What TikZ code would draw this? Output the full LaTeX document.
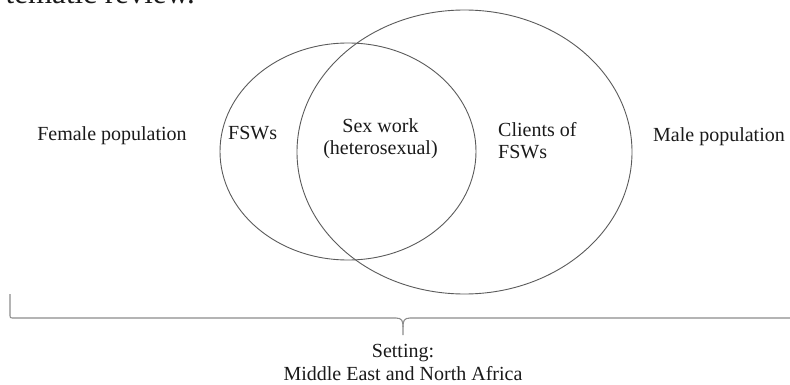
\documentclass[tikz,border=0pt]{standalone}
\usepackage{fontspec}
\setmainfont{Liberation Serif}
\usetikzlibrary{positioning,shapes.geometric}
\definecolor{ink}{HTML}{1A1A1A}
\definecolor{rimgray}{HTML}{5A5A5A}
\definecolor{bracegray}{HTML}{8C8C8C}
\tikzset{
  vennset/.style={ellipse,draw=rimgray,line width=0.9pt,inner sep=0pt},
  bracerim/.style={draw=bracegray,line width=1.1pt,line join=round},
  lbl/.style={inner sep=0pt,text=ink,font=\fontsize{20}{22}\selectfont},
  lblleft/.style={lbl,align=left},
  lblmid/.style={lbl,align=center}
}
\begin{document}
\begin{tikzpicture}[x=1pt,y=-1pt]
  \useasboundingbox (0,0) rectangle (790,385);
  % caption remnant, cut at the top
  \node[lbl,anchor=base east,font=\fontsize{31}{32}\selectfont] (capt) at (195,4) {tematic review.};
  % the two sets
  \node[vennset,minimum width=256pt,minimum height=217pt] (fswset) at (348,151.5) {};
  \node[vennset,minimum width=335pt,minimum height=284pt] (clientset) at (464.5,152) {};
  % labels
  \node[lbl,anchor=base] (female) at (112,141) {Female population};
  \node[lbl,anchor=base west] (fsw) at (228,140) {FSWs};
  \node[lblmid,anchor=north] (sexwork) at (380.5,118) {Sex work\\(heterosexual)};
  \node[lblleft,anchor=north west] (clients) at (498,122) {Clients of\\FSWs};
  \node[lbl,anchor=base west] (male) at (653,142) {Male population};
  % brace under the whole setting
  \coordinate (braceleft) at (10,294);
  \coordinate (bracetip) at (403,335);
  \coordinate (braceright) at (795,318);
  \draw[bracerim] (braceleft) -- (10,314) .. controls (10,318) .. (14,318)
    -- (396,318) .. controls (402,318) and (403,321) .. (403,327) -- (bracetip);
  \draw[bracerim] (403,327) .. controls (403,321) and (404,318) .. (410,318) -- (braceright);
  \node[lblmid,font=\fontsize{20}{23}\selectfont,below=9.5pt of bracetip] (setting)
    {Setting:\\Middle East and North Africa};
\end{tikzpicture}
\end{document}
